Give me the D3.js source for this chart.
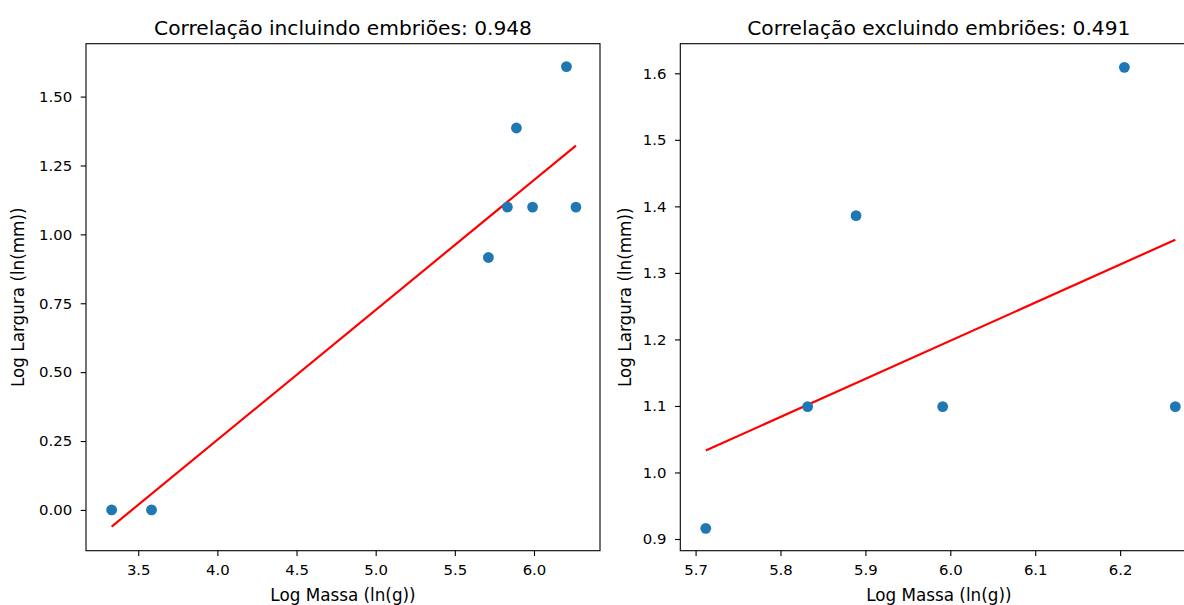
<!DOCTYPE html>
<html>
<head>
<meta charset="utf-8">
<script src="https://cdn.jsdelivr.net/npm/d3@7"></script>
<style>
  body { margin: 0; background: #fff; }
  text { font-family: "DejaVu Sans", sans-serif; fill: #000; }
</style>
</head>
<body>
<div id="chart"></div>
<script>
// values
var massAll = [3.332, 3.584, 5.712, 5.832, 5.889, 5.991, 6.205, 6.265];
var widthAll = [0.000, 0.000, 0.916, 1.099, 1.386, 1.099, 1.609, 1.099];
var massAdult = [5.712, 5.832, 5.889, 5.991, 6.205, 6.265];
var widthAdult = [0.916, 1.099, 1.386, 1.099, 1.609, 1.099];

// fitted line as read: [slope, intercept]
var fitAll = [0.4714, -1.6313];
var fitAdult = [0.573, -2.240];

var titles = ["Correlação incluindo embriões: 0.948", "Correlação excluindo embriões: 0.491"];
var xTicksAll = [3.5, 4.0, 4.5, 5.0, 5.5, 6.0];
var yTicksAll = [0.00, 0.25, 0.50, 0.75, 1.00, 1.25, 1.50];
var xTicksAdult = [5.7, 5.8, 5.9, 6.0, 6.1, 6.2];
var yTicksAdult = [0.9, 1.0, 1.1, 1.2, 1.3, 1.4, 1.5, 1.6];

var W = 1184, H = 605;
var plotTop = 43.7, plotBottom = 550.7;

var svg = d3.select("#chart").append("svg")
    .attr("width", W)
    .attr("height", H);

function panel(opt){
    var x = d3.scaleLinear().domain(opt.xdom).range(opt.xrange);
    var y = d3.scaleLinear().domain(opt.ydom).range([plotBottom, plotTop]);

    var g = svg.append("g");

    // red fit line over the data x
    var xs = d3.extent(opt.xs);
    g.append("line")
        .attr("x1", x(xs[0]))
        .attr("y1", y(opt.fit[0] * xs[0] + opt.fit[1]))
        .attr("x2", x(xs[1]))
        .attr("y2", y(opt.fit[0] * xs[1] + opt.fit[1]))
        .attr("stroke", "red")
        .attr("stroke-width", 2.2);

    g.selectAll("circle.pt")
        .data(opt.xs)
        .enter()
        .append("circle")
        .attr("class", "pt")
        .attr("cx", function(d){ return x(d); })
        .attr("cy", function(d, i){ return y(opt.ys[i]); })
        .attr("r", 5.4)
        .attr("fill", "#1f77b4");

    var xAxis = g.append("g")
        .attr("transform", "translate(0," + plotBottom + ")")
        .call(d3.axisBottom(x).tickValues(opt.xticks).tickFormat(d3.format(opt.xfmt)).tickSize(5.3).tickPadding(8.5));
    var yAxis = g.append("g")
        .attr("transform", "translate(" + opt.xrange[0] + ",0)")
        .call(d3.axisLeft(y).tickValues(opt.yticks).tickFormat(d3.format(opt.yfmt)).tickSize(5.3).tickPadding(8.5));

    [xAxis, yAxis].forEach(function(a){
        a.select(".domain").remove();
        a.selectAll("line").attr("stroke", "#000").attr("stroke-width", 1.1);
        a.selectAll("text")
            .style("font-family", "DejaVu Sans")
            .style("font-size", "14.9px")
            .attr("fill", "#000");
    });

    // axes frame
    g.append("rect")
        .attr("x", opt.xrange[0])
        .attr("y", plotTop)
        .attr("width", opt.xrange[1] - opt.xrange[0])
        .attr("height", plotBottom - plotTop)
        .attr("fill", "none")
        .attr("stroke", "#000")
        .attr("stroke-width", 1.1);

    var axMid = (opt.xrange[0] + opt.xrange[1]) / 2;

    g.append("text")
        .attr("x", axMid)
        .attr("y", 35)
        .attr("text-anchor", "middle")
        .style("font-size", "20.2px")
        .text(opt.title);

    g.append("text")
        .attr("x", axMid)
        .attr("y", 600.5)
        .attr("text-anchor", "middle")
        .style("font-size", "16.8px")
        .text("Log Massa (ln(g))");

    g.append("g")
        .attr("transform", "translate(" + opt.ylabelX + "," + ((plotTop + plotBottom) / 2) + ")")
        .append("text")
        .attr("transform", "rotate(-90)")
        .attr("text-anchor", "middle")
        .style("font-size", "16.8px")
        .text("Log Largura (ln(mm))");
}

panel({
    xs: massAll, ys: widthAll, fit: fitAll,
    xdom: [3.17, 6.417], xrange: [86, 600],
    ydom: [-0.148, 1.692],
    xticks: xTicksAll, yticks: yTicksAll, xfmt: ".1f", yfmt: ".2f",
    title: titles[0], ylabelX: 24
});

panel({
    xs: massAdult, ys: widthAdult, fit: fitAdult,
    xdom: [5.682, 6.291], xrange: [680.3, 1197.4],
    ydom: [0.8824, 1.6445],
    xticks: xTicksAdult, yticks: yTicksAdult, xfmt: ".1f", yfmt: ".1f",
    title: titles[1], ylabelX: 631
});
</script>
</body>
</html>
